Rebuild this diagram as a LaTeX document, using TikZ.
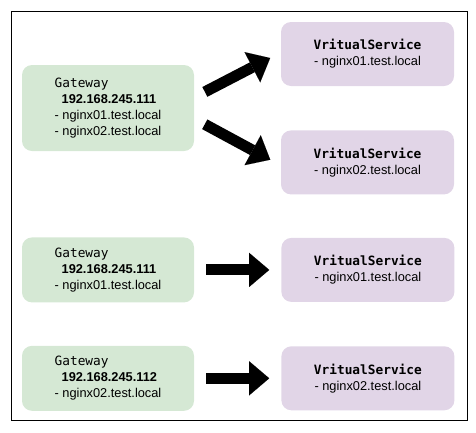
\documentclass[tikz,border=0pt]{standalone}
\usepackage{fontspec}
\setmainfont{Liberation Sans}
\setmonofont{DejaVu Sans Mono}
\usepackage{xcolor}
\definecolor{gwgreen}{HTML}{D5E8D4}
\definecolor{vslilac}{HTML}{E1D5E7}
\usetikzlibrary{arrows.meta,positioning}
\newcommand{\gwname}{\texttt{Gateway}}
\newcommand{\vsname}{\texttt{\bfseries VritualService}}

\begin{document}
\begin{tikzpicture}[
  x=1pt,y=-1pt,
  node distance=44pt and 87pt,
  every node/.style={font=\fontsize{12.8}{16}\selectfont},
  gw/.style={fill=gwgreen,rounded corners=10pt,minimum width=172pt,minimum height=65pt,align=left},
  vs/.style={fill=vslilac,rounded corners=10pt,minimum width=173pt,minimum height=64pt,align=center},
  fat/.style={-{Triangle[length=20pt,width=34pt,line width=0.01pt]},line width=11pt,shorten <=12pt,shorten >=12pt}
]
\useasboundingbox (0,0) rectangle (476,432);
\draw[line width=1pt] (11,11) rectangle (467,420);
% one gateway, two hosts
\node[gw,minimum height=86pt] (gw1) at (108,108) {\gwname\\\hspace*{7pt}\textbf{192.168.245.111}\\- nginx01.test.local\\- nginx02.test.local};
\node[vs] (vs1) at (367.5,54) {\vsname\\- nginx01.test.local};
\node[vs,below=of vs1] (vs2) {\vsname\\- nginx02.test.local};
\draw[fat] (gw1.7) -- (vs1.179);
\draw[fat] (gw1.-7) -- (vs2.182);
% one gateway per host
\node[gw,below=86pt of gw1] (gw2) {\gwname\\\hspace*{7pt}\textbf{192.168.245.111}\\- nginx01.test.local};
\node[vs,right=of gw2] (vs3) {\vsname\\- nginx01.test.local};
\node[gw,below=43pt of gw2] (gw3) {\gwname\\\hspace*{7pt}\textbf{192.168.245.112}\\- nginx02.test.local};
\node[vs,right=of gw3] (vs4) {\vsname\\- nginx02.test.local};
\draw[fat] (gw2) -- (vs3);
\draw[fat] (gw3) -- (vs4);
\end{tikzpicture}
\end{document}
